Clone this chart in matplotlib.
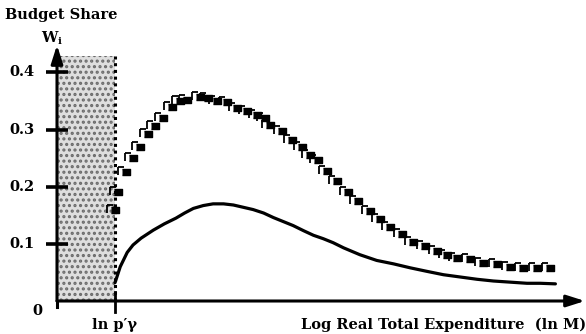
import matplotlib
matplotlib.use("Agg")
import matplotlib.pyplot as plt
from matplotlib.transforms import offset_copy

# ---- data ----
x_upper = [1.00, 1.05, 1.19, 1.31, 1.43, 1.57, 1.69, 1.83, 1.98, 2.12, 2.24, 2.47, 2.60, 2.76,
           2.93, 3.10, 3.28, 3.45, 3.59, 3.67, 3.88, 4.05, 4.22, 4.36, 4.50, 4.66, 4.83, 5.02,
           5.19, 5.40, 5.57, 5.74, 5.95, 6.14, 6.34, 6.55, 6.72, 6.90, 7.12, 7.34, 7.59, 7.81,
           8.03, 8.28, 8.50]
w_upper = [0.160, 0.190, 0.225, 0.250, 0.270, 0.293, 0.306, 0.320, 0.340, 0.350, 0.352, 0.357,
           0.356, 0.350, 0.348, 0.338, 0.333, 0.326, 0.320, 0.308, 0.297, 0.281, 0.269, 0.255,
           0.246, 0.228, 0.210, 0.191, 0.175, 0.158, 0.143, 0.129, 0.117, 0.104, 0.096, 0.087,
           0.081, 0.076, 0.073, 0.067, 0.064, 0.060, 0.058, 0.058, 0.058]

x_lower = [1.00, 1.09, 1.21, 1.31, 1.45, 1.66, 1.85, 2.05, 2.20, 2.35, 2.52, 2.69, 2.87, 3.04,
           3.21, 3.38, 3.56, 3.73, 3.90, 4.07, 4.25, 4.42, 4.59, 4.76, 4.94, 5.22, 5.51, 5.80,
           6.09, 6.37, 6.66, 6.95, 7.24, 7.52, 7.81, 8.10, 8.33, 8.59]
w_lower = [0.032, 0.060, 0.085, 0.098, 0.110, 0.124, 0.135, 0.145, 0.154, 0.162, 0.167, 0.170,
           0.170, 0.168, 0.164, 0.160, 0.154, 0.146, 0.139, 0.132, 0.123, 0.115, 0.109, 0.102,
           0.093, 0.081, 0.071, 0.065, 0.058, 0.052, 0.046, 0.042, 0.038, 0.035, 0.033, 0.031,
           0.031, 0.030]

y_ticks = [0.1, 0.2, 0.3, 0.4]
y_tick_labels = ["0.1", "0.2", "0.3", "0.4"]
x_threshold = 1.0          # ln p'γ
shade_top = 0.428
x_max = 9.1
y_max = 0.448

FONT = "DejaVu Serif"
plt.rcParams["hatch.linewidth"] = 1.5

fig = plt.figure(figsize=(5.86, 3.34), dpi=100)
ax = fig.add_axes([57 / 586, 33 / 334, (585 - 57) / 586, 256 / 334])
ax.set_xlim(0, x_max)
ax.set_ylim(0, y_max)
ax.axis("off")

# shaded region
ax.fill_between([0, x_threshold], 0, shade_top, facecolor="#dedede",
                edgecolor="#6a6a6a", hatch="...", linewidth=0)
ax.plot([x_threshold, x_threshold], [0, shade_top], color="black",
        linestyle=(0, (1, 1.2)), linewidth=2.2)

# axes with arrows
ax.annotate("", xy=(x_max, 0), xytext=(0, 0),
            arrowprops=dict(arrowstyle="-|>,head_length=1.1,head_width=0.35",
                            color="black", lw=2.2, shrinkA=0, shrinkB=0),
            annotation_clip=False)
ax.annotate("", xy=(0, y_max), xytext=(0, 0),
            arrowprops=dict(arrowstyle="-|>,head_length=1.1,head_width=0.35",
                            color="black", lw=2.2, shrinkA=0, shrinkB=0),
            annotation_clip=False)

# y ticks (cross the axis)
for yt, lab in zip(y_ticks, y_tick_labels):
    ax.plot([-0.19, 0.19], [yt, yt], color="black", lw=2.6, clip_on=False,
            solid_capstyle="butt")
    ax.text(-0.38, yt, lab, ha="right", va="center", fontsize=10.5,
            fontweight="bold", family=FONT)
ax.plot([0, 0], [0, -0.011], color="black", lw=2.2, clip_on=False)
ax.plot([x_threshold, x_threshold], [0.016, -0.020], color="black", lw=2.0, clip_on=False)
ax.text(-0.26, -0.018, "0", ha="right", va="center", fontsize=10.5,
        fontweight="bold", family=FONT)

# upper (blocky) series
rect = [(-1.4, -0.85), (1.4, -0.85), (1.4, 0.85), (-1.4, 0.85)]
ax.plot(x_upper, w_upper, linestyle="none", marker=rect, markersize=6.4,
        color="black", clip_on=False)
t1 = offset_copy(ax.transData, fig=fig, x=-5, y=5, units="dots")
t2 = offset_copy(ax.transData, fig=fig, x=-8, y=1, units="dots")
ax.plot(x_upper, w_upper, linestyle="none", marker="_", markersize=5,
        markeredgewidth=1.3, color="black", transform=t1)
ax.plot(x_upper, w_upper, linestyle="none", marker="|", markersize=6,
        markeredgewidth=1.3, color="black", transform=t2)

# lower smooth series
ax.plot(x_lower, w_lower, color="black", lw=2.3, solid_capstyle="round",
        solid_joinstyle="round")

# labels
fig.text(5 / 586, 1 - 15 / 334, "Budget Share", ha="left", va="center",
         fontsize=10.5, fontweight="bold", family=FONT)
fig.text(52 / 586, 1 - 38 / 334, r"W$_\mathregular{i}$", ha="center", va="center",
         fontsize=10.5, fontweight="bold", family=FONT)
fig.text(115 / 586, 1 - 325 / 334, "ln p\u2032\u03b3", ha="center", va="center",
         fontsize=10.5, fontweight="bold", family=FONT)
fig.text(586 / 586, 1 - 325 / 334, "Log Real Total Expenditure  (ln M)", ha="right",
         va="center", fontsize=10.5, fontweight="bold", family=FONT)

fig.savefig("out.png", dpi=100)
